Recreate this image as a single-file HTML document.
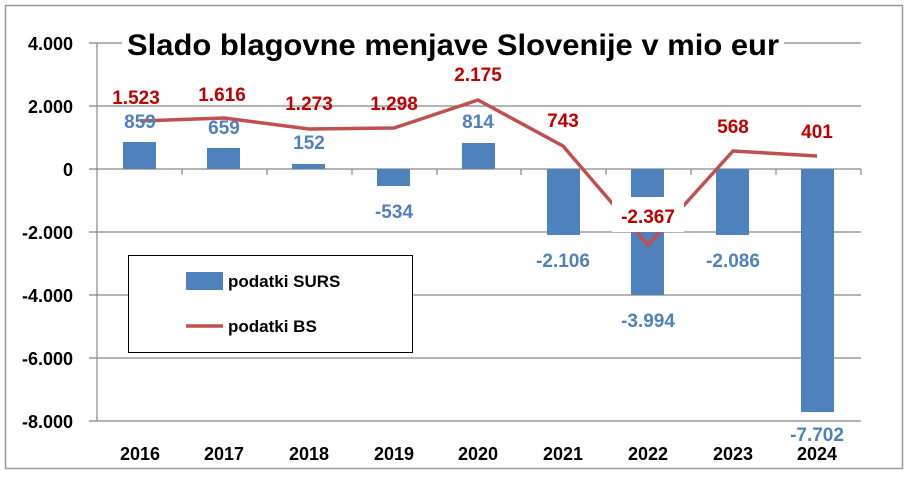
<!DOCTYPE html>
<html><head><meta charset="utf-8"><style>
body{margin:0;background:#fff}
svg text{font-family:"Liberation Sans",Arial,sans-serif;font-weight:bold}
</style></head><body>
<svg width="908" height="478" viewBox="0 0 908 478" xmlns="http://www.w3.org/2000/svg">
<rect x="5.5" y="5.5" width="897" height="463" fill="#fff" stroke="#999" stroke-width="1.5"/>
<g stroke="#888" stroke-width="1.2">
<line x1="89" y1="43" x2="861" y2="43"/>
<line x1="89" y1="106" x2="861" y2="106"/>
<line x1="89" y1="232" x2="861" y2="232"/>
<line x1="89" y1="295" x2="861" y2="295"/>
<line x1="89" y1="358" x2="861" y2="358"/>
<line x1="89" y1="421" x2="861" y2="421"/>
<line x1="97" y1="43" x2="97" y2="421"/>
<line x1="89" y1="169" x2="861" y2="169"/>
<line x1="182" y1="169" x2="182" y2="175"/><line x1="267" y1="169" x2="267" y2="175"/>
<line x1="352" y1="169" x2="352" y2="175"/><line x1="437" y1="169" x2="437" y2="175"/>
<line x1="521" y1="169" x2="521" y2="175"/><line x1="606" y1="169" x2="606" y2="175"/>
<line x1="691" y1="169" x2="691" y2="175"/><line x1="776" y1="169" x2="776" y2="175"/>
<line x1="861" y1="169" x2="861" y2="175"/>
</g>
<g font-size="18" fill="#000" text-anchor="end">
<text x="73" y="50">4.000</text><text x="73" y="113">2.000</text><text x="73" y="176">0</text>
<text x="73" y="239">-2.000</text><text x="73" y="302">-4.000</text><text x="73" y="365">-6.000</text><text x="73" y="428">-8.000</text>
</g>
<g fill="#4F81BD">
<rect x="123" y="142" width="33" height="27"/>
<rect x="207" y="148" width="33" height="21"/>
<rect x="292" y="164" width="33" height="5"/>
<rect x="377" y="169" width="33" height="17"/>
<rect x="462" y="143" width="33" height="26"/>
<rect x="547" y="169" width="33" height="66"/>
<rect x="631" y="169" width="33" height="126"/>
<rect x="716" y="169" width="33" height="66"/>
<rect x="801" y="169" width="33" height="243"/>
</g>
<rect x="122" y="25" width="662" height="38" fill="#fff"/>
<text x="453" y="55" font-size="30" text-anchor="middle" fill="#000" textLength="652" lengthAdjust="spacingAndGlyphs">Slado blagovne menjave Slovenije v mio eur</text>
<polyline fill="none" stroke="#C0504D" stroke-width="3.5" stroke-linejoin="round" points="140,121 224,118 309,129 394,128 478,100 563,146 648,245 733,151 817,156"/>
<g font-size="19" fill="#4F81BD" text-anchor="middle">
<text x="140" y="128">859</text><text x="224" y="134">659</text><text x="309" y="149">152</text>
<text x="394" y="218">-534</text><text x="478" y="128">814</text><text x="563" y="267">-2.106</text>
<text x="648" y="327">-3.994</text><text x="733" y="267">-2.086</text><text x="817" y="441">-7.702</text>
</g>
<rect x="612" y="197" width="72" height="35" fill="#fff"/>
<g font-size="19" fill="#C00000" text-anchor="middle">
<text x="136" y="104">1.523</text><text x="222" y="101">1.616</text><text x="309" y="110">1.273</text>
<text x="394" y="110">1.298</text><text x="478" y="81">2.175</text><text x="563" y="127">743</text>
<text x="648" y="223">-2.367</text><text x="733" y="133">568</text><text x="817" y="138">401</text>
</g>
<g font-size="18" fill="#000" text-anchor="middle">
<text x="140" y="460">2016</text><text x="224" y="460">2017</text><text x="309" y="460">2018</text>
<text x="394" y="460">2019</text><text x="478" y="460">2020</text><text x="563" y="460">2021</text>
<text x="648" y="460">2022</text><text x="733" y="460">2023</text><text x="817" y="460">2024</text>
</g>
<rect x="128.5" y="255.5" width="284" height="97" fill="#fff" stroke="#000" stroke-width="1"/>
<rect x="186" y="272" width="37" height="18" fill="#4F81BD"/>
<text x="228" y="287" font-size="17" fill="#000">podatki SURS</text>
<line x1="186" y1="326" x2="223" y2="326" stroke="#C0504D" stroke-width="3.5"/>
<text x="228" y="332" font-size="17" fill="#000">podatki BS</text>
</svg>
</body></html>
